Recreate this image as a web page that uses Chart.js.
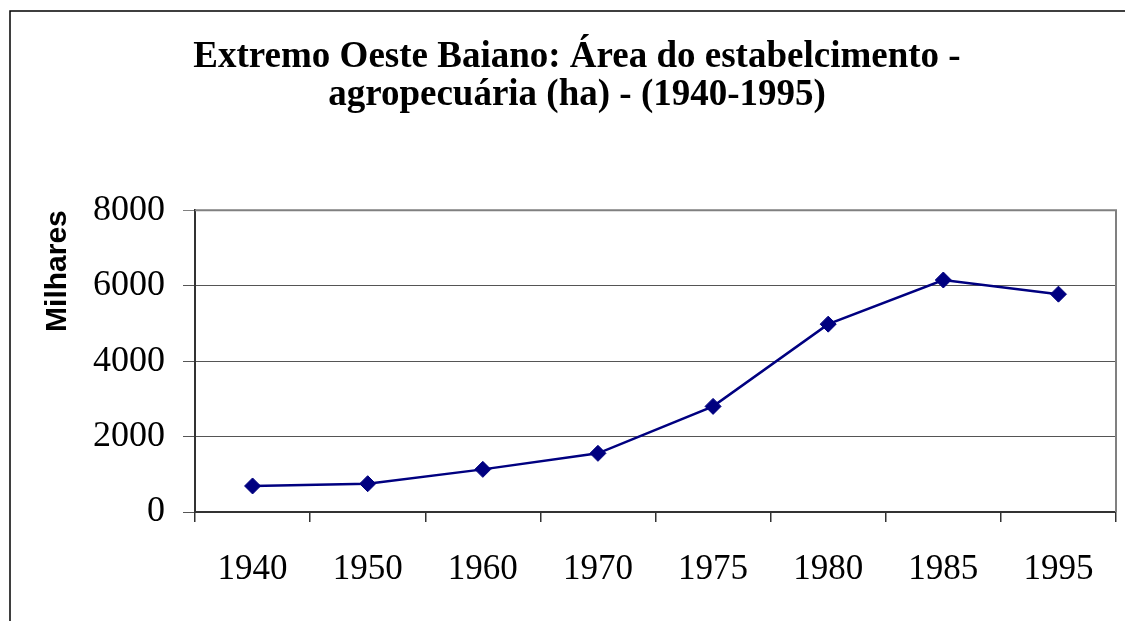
<!DOCTYPE html>
<html>
<head>
<meta charset="utf-8">
<script src="https://cdn.jsdelivr.net/npm/chart.js@4.4.0/dist/chart.umd.min.js"></script>
<style>
  html, body { margin: 0; padding: 0; background: #fff; }
  #wrap { width: 1125px; height: 621px; }
</style>
</head>
<body>
<div id="wrap"><canvas id="c" width="1125" height="621"></canvas></div>
<script>
const years = ["1940", "1950", "1960", "1970", "1975", "1980", "1985", "1995"];
const areaMilhares = [690, 750, 1130, 1555, 2800, 4980, 6150, 5775];
const titleLines = ["Extremo Oeste Baiano: Área do estabelcimento -", "agropecuária (ha) - (1940-1995)"];
const yAxisLabel = "Milhares";

const frame = {
  id: "frame",
  beforeDraw(chart) {
    const ctx = chart.ctx;
    ctx.save();
    ctx.fillStyle = "#fff";
    ctx.fillRect(0, 0, chart.width, chart.height);
    ctx.strokeStyle = "#000";
    ctx.lineWidth = 1.5;
    ctx.strokeRect(10, 11, chart.width + 50, chart.height + 50);
    ctx.restore();
  },
  afterDatasetsDraw(chart) {
    const a = chart.chartArea;
    const ctx = chart.ctx;
    ctx.save();
    ctx.strokeStyle = "#808080";
    ctx.lineWidth = 2;
    ctx.beginPath();
    ctx.moveTo(a.left, a.top);
    ctx.lineTo(a.right, a.top);
    ctx.lineTo(a.right, a.bottom);
    ctx.stroke();
    ctx.restore();
  }
};

new Chart(document.getElementById("c"), {
  type: "line",
  data: {
    labels: years,
    datasets: [{
      data: areaMilhares,
      borderColor: "#000080",
      backgroundColor: "#000080",
      borderWidth: 2.5,
      pointStyle: "rectRot",
      pointRadius: 8,
      pointBorderWidth: 1,
      tension: 0,
      fill: false
    }]
  },
  options: {
    responsive: false,
    animation: false,
    // left padding shifts the title centre to where the original sits
    layout: { padding: { left: 38, right: 9, top: 0, bottom: 0 } },
    plugins: {
      legend: { display: false },
      tooltip: { enabled: false },
      title: {
        display: true,
        text: titleLines,
        color: "#000",
        font: { family: "'Liberation Serif', 'Times New Roman', serif", size: 37, weight: "bold", lineHeight: 1.03 },
        padding: { top: 38, bottom: 96 }
      }
    },
    scales: {
      x: {
        offset: true,
        grid: { display: true, drawOnChartArea: false, offset: true, tickLength: 10, color: "#333", lineWidth: 1.5 },
        border: { display: true, color: "#333", width: 2 },
        ticks: {
          color: "#000",
          padding: 27,
          font: { family: "'Liberation Serif', 'Times New Roman', serif", size: 35 }
        },
        afterFit(scale) { scale.height = 109; }
      },
      y: {
        min: 0,
        max: 8000,
        ticks: {
          stepSize: 2000,
          color: "#000",
          padding: 18,
          callback: (v) => String(v),
          font: { family: "'Liberation Serif', 'Times New Roman', serif", size: 36 }
        },
        grid: {
          tickLength: 12,
          lineWidth: 1,
          color: (c) => (c.tick && c.tick.value === 8000 ? "#808080" : "#555")
        },
        border: { display: true, color: "#333", width: 2 },
        title: {
          display: true,
          text: yAxisLabel,
          align: "end",
          color: "#000",
          font: { family: "'Liberation Sans', Arial, sans-serif", size: 30, weight: "bold", lineHeight: 1.2 },
          padding: { top: 2, bottom: 0 }
        },
        afterFit(scale) { scale.width = 157; }
      }
    }
  },
  plugins: [frame]
});
</script>
</body>
</html>
